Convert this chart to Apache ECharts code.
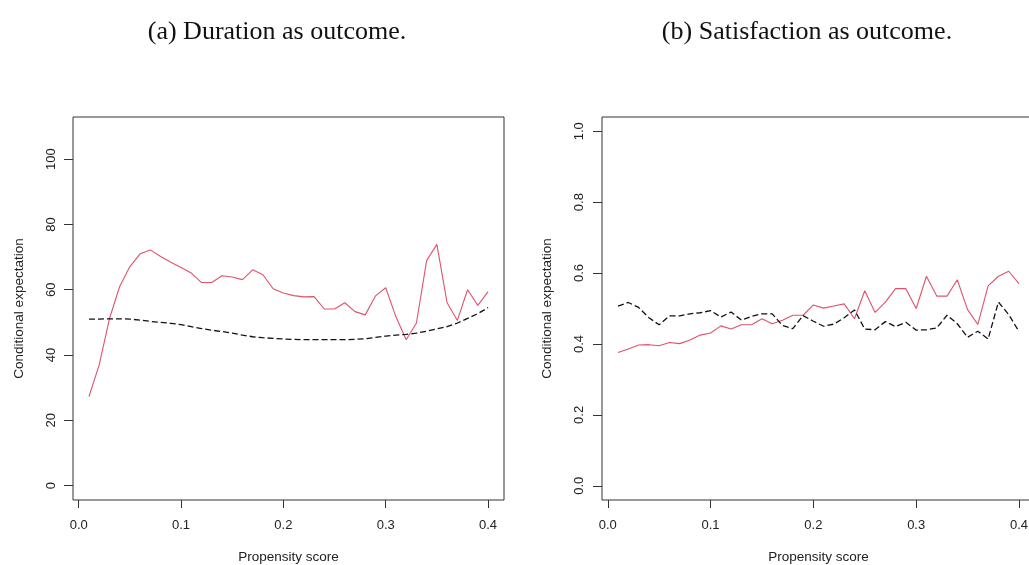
<!DOCTYPE html>
<html>
<head>
<meta charset="utf-8">
<script src="https://cdn.jsdelivr.net/npm/echarts@6/dist/echarts.min.js"></script>
<style>
  html, body { margin: 0; padding: 0; background: #ffffff; }
  #chart { width: 1029px; height: 565px; }
</style>
</head>
<body>
<div id="chart"></div>
<script>
// ---- Data ----
const propensity = [0.01,0.02,0.03,0.04,0.05,0.06,0.07,0.08,0.09,0.10,
                    0.11,0.12,0.13,0.14,0.15,0.16,0.17,0.18,0.19,0.20,
                    0.21,0.22,0.23,0.24,0.25,0.26,0.27,0.28,0.29,0.30,
                    0.31,0.32,0.33,0.34,0.35,0.36,0.37,0.38,0.39,0.40];

// (a) Duration as outcome
const durationSolid = [27.3,37.0,51.1,61.0,67.1,71.0,72.2,70.2,68.4,66.8,
                       65.1,62.2,62.2,64.3,63.9,63.1,66.1,64.6,60.3,59.0,
                       58.2,57.8,57.9,54.1,54.1,56.0,53.3,52.3,58.1,60.6,
                       51.7,44.7,49.8,68.9,73.9,56.0,50.6,60.0,55.2,59.4];
const durationDashed = [51.0,51.0,51.1,51.1,51.0,50.7,50.3,50.0,49.7,49.3,
                        48.7,48.1,47.6,47.2,46.7,46.1,45.6,45.3,45.1,44.9,
                        44.8,44.7,44.7,44.7,44.7,44.7,44.8,45.0,45.4,45.8,
                        46.1,46.3,46.7,47.3,48.0,48.7,49.8,51.2,52.7,54.5];

// (b) Satisfaction as outcome
const satisfactionSolid = [0.376,0.386,0.397,0.398,0.395,0.404,0.401,0.411,0.425,0.431,
                           0.451,0.442,0.454,0.454,0.471,0.457,0.467,0.481,0.481,0.510,
                           0.501,0.507,0.513,0.471,0.550,0.489,0.518,0.556,0.556,0.500,
                           0.591,0.535,0.535,0.581,0.497,0.455,0.564,0.591,0.605,0.570];
const satisfactionDashed = [0.507,0.517,0.503,0.474,0.454,0.479,0.479,0.485,0.488,0.494,
                            0.476,0.490,0.467,0.478,0.485,0.485,0.452,0.443,0.480,0.464,
                            0.450,0.456,0.474,0.496,0.442,0.440,0.463,0.449,0.461,0.439,
                            0.440,0.445,0.481,0.457,0.419,0.436,0.414,0.518,0.483,0.435];

// ---- Tick labels ----
const xTicks = [0.0, 0.1, 0.2, 0.3, 0.4];
const durationTicks = [0, 20, 40, 60, 80, 100];
const satisfactionTicks = [0.0, 0.2, 0.4, 0.6, 0.8, 1.0];

// ---- Text ----
const titleA = '(a) Duration as outcome.';
const titleB = '(b) Satisfaction as outcome.';
const xName = 'Propensity score';
const yName = 'Conditional expectation';

const pair = (ys) => propensity.map((x, i) => [x, ys[i]]);

const RED = '#DF536B';
const AXIS = '#333333';
const sans = 'Liberation Sans, Arial, sans-serif';

function xAxisFor(gridIndex) {
  return {
    type: 'value', gridIndex, position: 'bottom',
    min: -0.0056, max: 0.4156,
    name: xName, nameLocation: 'middle', nameGap: 50,
    nameTextStyle: { fontFamily: sans, fontSize: 13.5, color: '#222' },
    axisLine: { show: false, onZero: false },
    axisTick: { show: true, inside: false, length: 8, lineStyle: { color: AXIS, width: 1 }, customValues: xTicks },
    axisLabel: { show: true, margin: 19, fontFamily: sans, fontSize: 13, color: '#222',
                 customValues: xTicks, formatter: v => Number(v).toFixed(1) },
    splitLine: { show: false }
  };
}

function yAxisFor(gridIndex, min, max, ticks, fmt, labelMargin, nameGap) {
  return {
    type: 'value', gridIndex, position: 'left',
    min, max,
    name: yName, nameLocation: 'middle', nameGap, nameRotate: 90,
    nameTextStyle: { fontFamily: sans, fontSize: 13.5, color: '#222' },
    axisLine: { show: false, onZero: false },
    axisTick: { show: true, inside: false, length: 9, lineStyle: { color: AXIS, width: 1 }, customValues: ticks },
    axisLabel: { show: true, rotate: 90, margin: labelMargin, fontFamily: sans, fontSize: 13, color: '#222',
                 customValues: ticks, formatter: fmt },
    splitLine: { show: false }
  };
}

const chart = echarts.init(document.getElementById('chart'), null, { renderer: 'canvas' });

chart.setOption({
  backgroundColor: '#ffffff',
  animation: false,
  title: [
    { text: titleA, left: 272, top: 27, textAlign: 'center', textVerticalAlign: 'middle',
      textStyle: { fontFamily: 'Liberation Serif, Times New Roman, serif', fontSize: 26, fontWeight: 'normal', color: '#111' } },
    { text: titleB, left: 802, top: 27, textAlign: 'center', textVerticalAlign: 'middle',
      textStyle: { fontFamily: 'Liberation Serif, Times New Roman, serif', fontSize: 26, fontWeight: 'normal', color: '#111' } }
  ],
  grid: [
    { left: 73, top: 117, width: 431, height: 383, show: true, borderColor: AXIS, borderWidth: 1,
      backgroundColor: 'transparent', containLabel: false, outerBoundsMode: 'none' },
    { left: 602, top: 117, width: 433, height: 383, show: true, borderColor: AXIS, borderWidth: 1,
      backgroundColor: 'transparent', containLabel: false, outerBoundsMode: 'none' }
  ],
  xAxis: [ xAxisFor(0), xAxisFor(1) ],
  yAxis: [
    yAxisFor(0, -4.4, 112.9, durationTicks, v => String(Math.round(v)), 15.5, 47),
    yAxisFor(1, -0.04, 1.04, satisfactionTicks, v => Number(v).toFixed(1), 16, 47.5)
  ],
  series: [
    { type: 'line', xAxisIndex: 0, yAxisIndex: 0, data: pair(durationSolid), showSymbol: false, symbol: 'none',
      lineStyle: { color: RED, width: 1.1 }, silent: true },
    { type: 'line', xAxisIndex: 0, yAxisIndex: 0, data: pair(durationDashed), showSymbol: false, symbol: 'none',
      lineStyle: { color: '#111', width: 1.3, type: [6, 3] }, silent: true },
    { type: 'line', xAxisIndex: 1, yAxisIndex: 1, data: pair(satisfactionSolid), showSymbol: false, symbol: 'none',
      lineStyle: { color: RED, width: 1.1 }, silent: true },
    { type: 'line', xAxisIndex: 1, yAxisIndex: 1, data: pair(satisfactionDashed), showSymbol: false, symbol: 'none',
      lineStyle: { color: '#111', width: 1.3, type: [6, 3] }, silent: true }
  ]
});
</script>
</body>
</html>
